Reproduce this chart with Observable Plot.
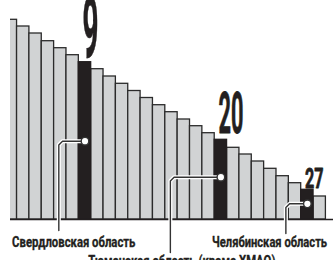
<!DOCTYPE html>
<html><head><meta charset="utf-8">
<script src="https://cdn.jsdelivr.net/npm/d3@7"></script>
<script src="https://cdn.jsdelivr.net/npm/@observablehq/plot@0.6"></script>
<style>body{margin:0;background:#fff} svg{display:block}</style>
</head><body><div id="chart"></div>
<script>
// Ranks shown (rank 3 is cropped at the left edge of the original)
const ranks = [3,4,5,6,7,8,9,10,11,12,13,14,15,16,17,18,19,20,21,22,23,24,25,26,27,28];
const values = [199.7,193,186,178.3,171.3,164.3,157.3,150.3,143,135.7,128.5,121.5,114.3,107.3,100,93.3,86.3,79.7,71.7,65,58,50.7,43.3,36.3,29.7,23];
const highlightRanks = [9, 20, 27];
const rankLabels = ["9", "20", "27"];
const regionNames = ["Свердловская область", "Тюменская область (кроме ХМАО)", "Челябинская область"];

// annotation layout
const bigSize = [86, 57, 27];
const bigWidth = [16, 25, 18.5];
const bigGap = [5.7, 6.6, 2.3];
const leaderY = [78.3, 42.3, 15.7];
const leaderCornerX = [6.88, 15.91, 25.26];
const leaderEndY = [-11, -33, -14];
const nameX = [8.09, 16.84, 23.94];
const nameY = [-22.3, -42, -22.3];
const nameWidth = [123.3, 187, 115];

const bars = ranks.map((r, i) => ({rank: r, value: values[i], hi: highlightRanks.includes(r)}));
const ann = highlightRanks.map((r, i) => ({
  rank: r, label: rankLabels[i], name: regionNames[i],
  value: values[ranks.indexOf(r)], i
}));
const leaders = [];
ann.forEach((a, i) => {
  const cx = leaderCornerX[i];
  leaders.push({id: i, x: a.rank, y: leaderY[i]});
  leaders.push({id: i, x: cx + 0.3, y: leaderY[i]});
  leaders.push({id: i, x: cx, y: leaderY[i] - 3.7});
  leaders.push({id: i, x: cx, y: leaderEndY[i]});
});

const chart = Plot.plot({
  width: 333, height: 260,
  marginLeft: 10, marginRight: 0, marginTop: 0, marginBottom: 0,
  x: {type: "linear", domain: [2.5, 28.5], range: [4.2, 325.4], axis: null},
  y: {type: "linear", domain: [0, 200], range: [219, 19], axis: null},
  style: {fontFamily: "Roboto, 'DejaVu Sans Condensed', sans-serif", background: "#fff"},
  marks: [
    Plot.rect(bars.filter(d => !d.hi), {x1: d => d.rank - 0.5, x2: d => d.rank + 0.5, y1: () => 0, y2: "value", fill: "#d1d3d4", stroke: "#2b2b2b", strokeWidth: 1.3, clip: true}),
    Plot.rect(bars.filter(d => d.hi), {x1: d => d.rank - 0.5, x2: d => d.rank + 0.5, y1: () => 0, y2: "value", fill: "#231f20", stroke: "#231f20", strokeWidth: 1.3, clip: true}),
    Plot.ruleY([0], {stroke: "#231f20", strokeWidth: 1.6}),
    Plot.line(leaders, {x: "x", y: "y", z: "id", stroke: "white", strokeWidth: 4, strokeLinejoin: "round"}),
    Plot.line(leaders, {x: "x", y: "y", z: "id", stroke: "#333", strokeWidth: 1.4, strokeLinejoin: "round"}),
    Plot.dot(ann, {x: "rank", y: (d, i) => leaderY[i], r: 3.8, fill: "white", stroke: "#333", strokeWidth: 1.4}),
    Plot.text(ann, {x: d => d.rank - 0.5 + 0.3, y: (d, i) => d.value + bigGap[i], text: "label", fontSize: (d, i) => bigSize[i], fontWeight: "bold", fill: "#231f20", stroke: "#231f20", strokeWidth: 0.8, textAnchor: "start", lineAnchor: "bottom", className: "big"}),
    Plot.text(ann, {x: (d, i) => nameX[i], y: (d, i) => nameY[i], text: "name", fontSize: 15, fontWeight: "bold", fill: "#231f20", stroke: "#231f20", strokeWidth: 0.35, lineAnchor: "middle", className: "names"})
  ]
});
d3.select(chart).selectAll(".big text").attr("textLength", (d, i) => bigWidth[i]).attr("lengthAdjust", "spacingAndGlyphs");
d3.select(chart).selectAll(".names text").attr("textLength", (d, i) => nameWidth[i]).attr("lengthAdjust", "spacingAndGlyphs");
document.getElementById("chart").appendChild(chart);
</script>
</body></html>
